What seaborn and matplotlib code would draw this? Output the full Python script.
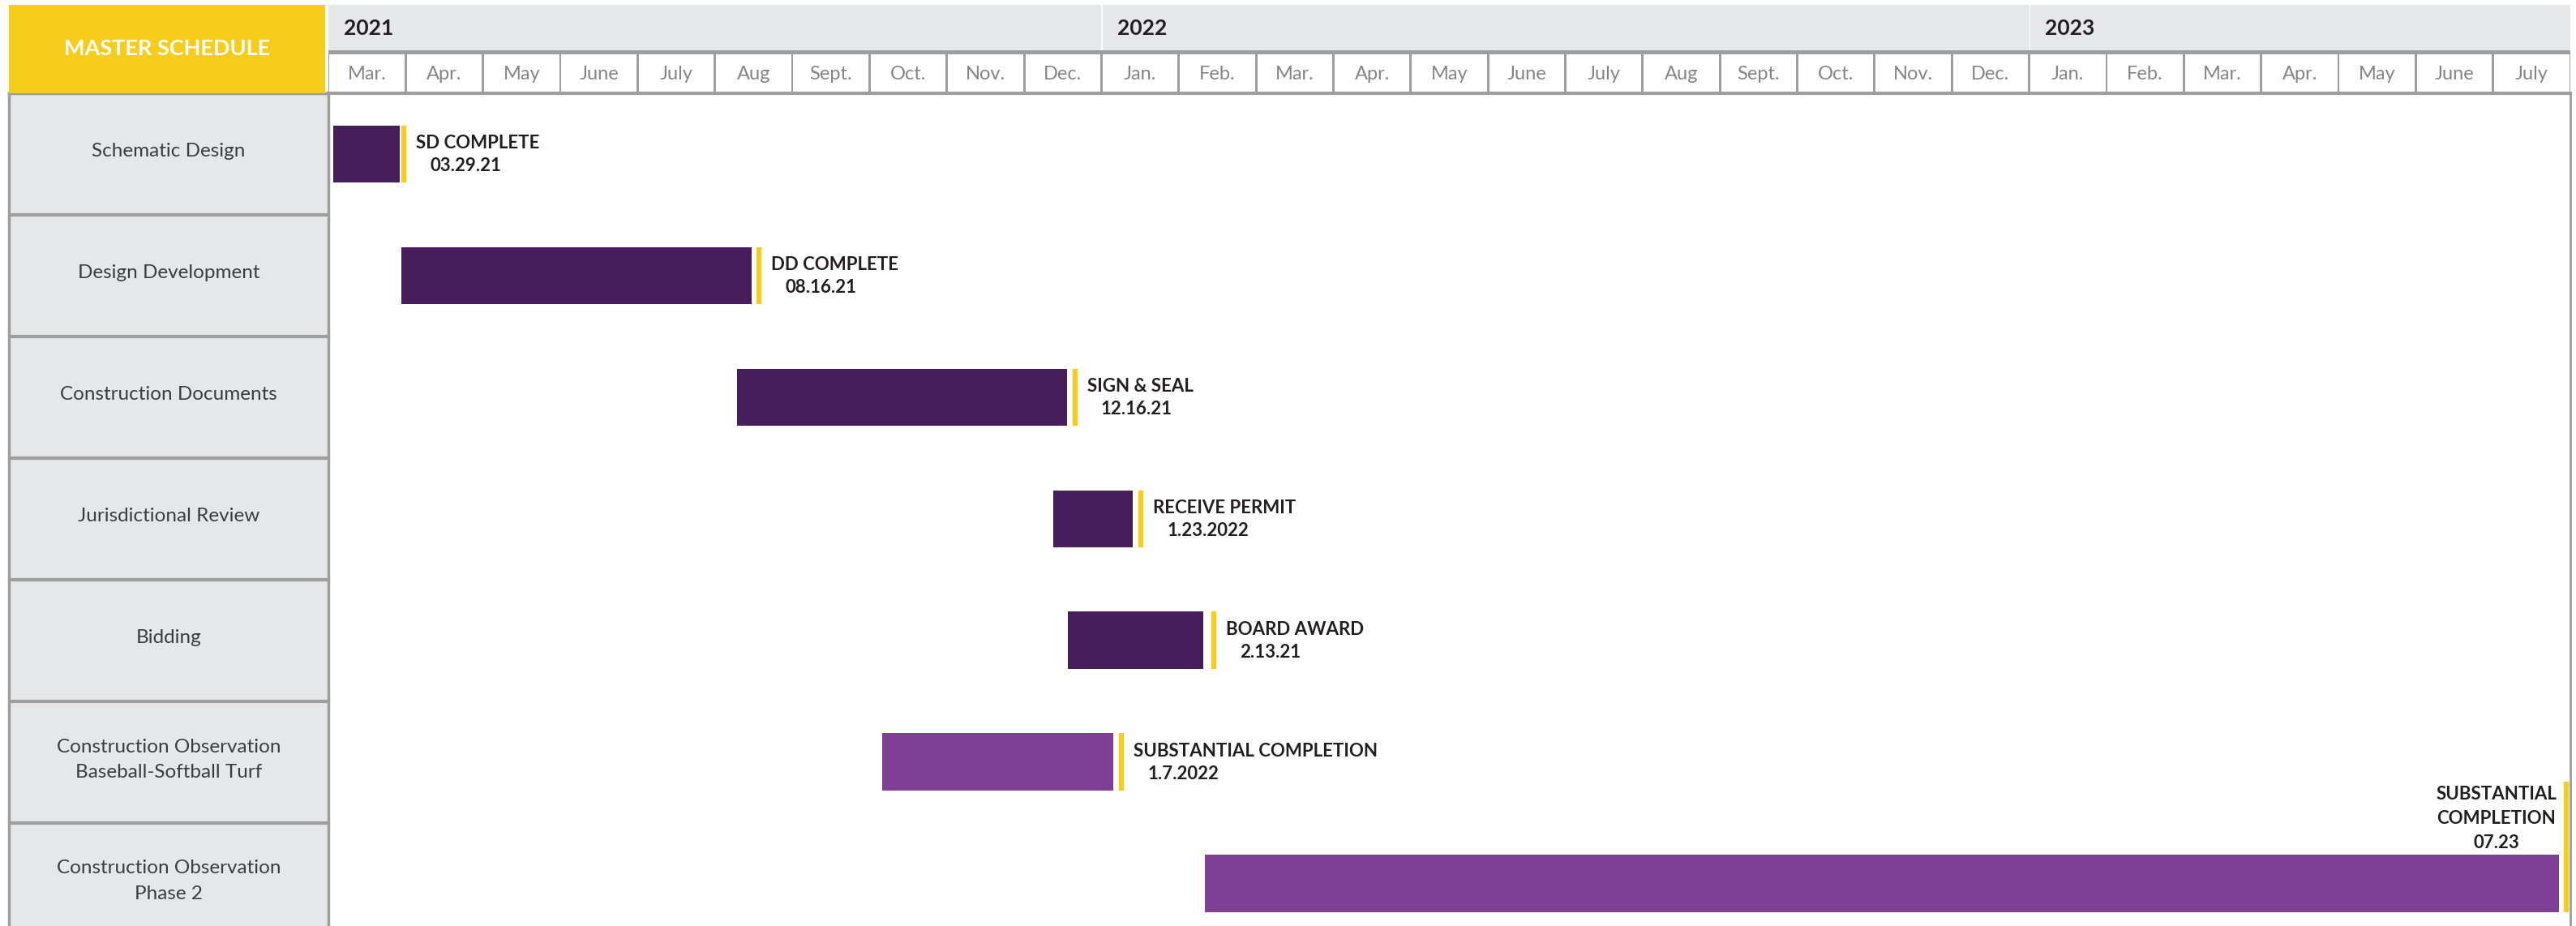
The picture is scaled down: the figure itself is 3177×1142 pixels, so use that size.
import numpy as np
import pandas as pd
import seaborn as sns
import matplotlib.pyplot as plt

sns.set_theme(style='white')
plt.rcParams['font.family'] = ['Lato', 'DejaVu Sans']

# rows of the schedule
tasks = ['Schematic Design', 'Design Development', 'Construction Documents',
         'Jurisdictional Review', 'Bidding',
         'Construction Observation\nBaseball-Softball Turf',
         'Construction Observation\nPhase 2']
# bar ends, in months counted from 1 Mar. 2021
start = [0.06, 0.94, 5.29, 9.38, 9.57, 7.16, 11.34]
finish = [0.92, 5.48, 9.55, 10.40, 11.32, 10.15, 28.85]
phase = ['design', 'design', 'design', 'design', 'design',
         'construction', 'construction']

# milestones (yellow markers)
milestone_at = [0.98, 5.57, 9.66, 10.51, 11.45, 10.26, 28.95]
milestone_name = ['SD COMPLETE', 'DD COMPLETE', 'SIGN & SEAL', 'RECEIVE PERMIT',
                  'BOARD AWARD', 'SUBSTANTIAL COMPLETION',
                  'SUBSTANTIAL\nCOMPLETION']
milestone_date = ['03.29.21', '08.16.21', '12.16.21', '1.23.2022', '2.13.21',
                  '1.7.2022', '07.23']

months = ['Mar.', 'Apr.', 'May', 'June', 'July', 'Aug', 'Sept.', 'Oct.', 'Nov.',
          'Dec.', 'Jan.', 'Feb.', 'Mar.', 'Apr.', 'May', 'June', 'July', 'Aug',
          'Sept.', 'Oct.', 'Nov.', 'Dec.', 'Jan.', 'Feb.', 'Mar.', 'Apr.', 'May',
          'June', 'July']
years = ['2021', '2022', '2023']
year_first_month = [0, 10, 22]

df = pd.DataFrame({'task': tasks, 'start': start, 'finish': finish, 'phase': phase})
df['duration'] = df['finish'] - df['start']

colors = {'design': '#461e5c', 'construction': '#7f3f94'}
yellow = '#f6cd1a'
cell_gray = '#e6e7e8'
line_gray = '#9e9e9e'
ink = '#231f20'

W, H = 3177, 1142


def box(x0, y0, x1, y1):
    # pixel box measured from the top-left corner -> figure fraction
    return [x0 / W, 1 - y1 / H, (x1 - x0) / W, (y1 - y0) / H]


fig = plt.figure(figsize=(W / 100, H / 100), dpi=100)
ax = fig.add_axes(box(405, 115, 3170, 1142))
ax_head = fig.add_axes(box(405, 6, 3170, 115), sharex=ax)
ax_side = fig.add_axes(box(11, 115, 405, 1142), sharey=ax)
ax_title = fig.add_axes(box(11, 6, 401, 115))

n_months = len(months)
ax.set_xlim(0, n_months)
ax.set_ylim(6.35, -0.5)

# gantt bars
bar_h = 0.47
for i, row in df.iterrows():
    ax.barh(i, row['duration'], left=row['start'], height=bar_h,
            color=colors[row['phase']], linewidth=0)

# milestone markers and labels
lab_kw = dict(textcoords='offset pixels', fontsize=16, fontweight='bold',
              color=ink, annotation_clip=False)
for i, (mx, name, date) in enumerate(zip(milestone_at, milestone_name, milestone_date)):
    top = i - bar_h / 2
    if '\n' in name:
        # stacked label sits above the bar, marker runs up alongside it
        ax.vlines(mx, top - 0.6, i + bar_h / 2, color=yellow, lw=4.5, clip_on=False)
        ax.annotate(name + '\n' + date, xy=(mx, top), xytext=(-12, 4),
                    ha='right', va='bottom', multialignment='center',
                    linespacing=1.55, **lab_kw)
    else:
        ax.vlines(mx, top, i + bar_h / 2, color=yellow, lw=4.5)
        ax.annotate(name, xy=(mx, i), xytext=(15, 13), ha='left', va='center', **lab_kw)
        ax.annotate(date, xy=(mx, i), xytext=(32, -15), ha='left', va='center', **lab_kw)

ax.set_xticks([])
ax.set_yticks([])
for side in ['left', 'bottom']:
    ax.spines[side].set_visible(False)
ax.spines['top'].set_color(line_gray)
ax.spines['top'].set_linewidth(3)
ax.spines['right'].set_color(line_gray)
ax.spines['right'].set_linewidth(2)

# header: years on top, months below
ax_head.set_ylim(0, 1)
ax_head.axhspan(0, 0.46, color=line_gray, lw=0)
ax_head.axhspan(0.46, 0.49, color=line_gray, lw=0)
year_edges = year_first_month + [n_months]
for k, yr in enumerate(years):
    ax_head.axvspan(year_edges[k] + (0.02 if k else 0), year_edges[k + 1],
                    ymin=0.49, ymax=1, color=cell_gray, lw=0)
    ax_head.text(year_edges[k] + 0.2, 0.73, yr, fontsize=19, fontweight='bold',
                 color=ink, va='center', ha='left')
for m, lab in enumerate(months):
    ax_head.axvspan(m + 0.015, m + 1 - 0.015, ymin=0.02, ymax=0.44,
                    color='white', lw=0)
    ax_head.text(m + 0.5, 0.22, lab, fontsize=17, color='#858585',
                 ha='center', va='center')
ax_head.set_xticks([])
ax_head.set_yticks([])
for sp in ax_head.spines.values():
    sp.set_visible(False)

# left column of task names
ax_side.set_xlim(0, 1)
ax_side.set_facecolor(cell_gray)
for b in np.arange(-0.5, len(tasks)):
    ax_side.axhline(b, color=line_gray, lw=3)
for i, t in enumerate(tasks):
    ax_side.text(0.5, i - 0.02, t, ha='center', va='center', fontsize=17.5,
                 color='#3d3d3d', linespacing=1.6)
ax_side.set_xticks([])
ax_side.set_yticks([])
for sp in ax_side.spines.values():
    sp.set_color(line_gray)
    sp.set_linewidth(2.5)
ax_side.spines['bottom'].set_visible(False)

# title block
ax_title.set_facecolor(yellow)
ax_title.text(0.5, 0.5, 'MASTER SCHEDULE', ha='center', va='center',
              fontsize=19.5, fontweight='bold', color='white')
ax_title.set_xticks([])
ax_title.set_yticks([])
for sp in ax_title.spines.values():
    sp.set_visible(False)

fig.savefig('out.png', dpi=100)
